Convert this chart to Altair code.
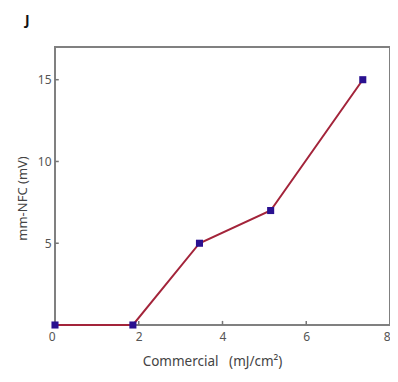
import altair as alt
import pandas as pd

energy = [0.0, 1.86, 3.45, 5.15, 7.35]
voltage = [0, 0, 5, 7, 15]
x_ticks = [0, 2, 4, 6, 8]
y_ticks = [5, 10, 15]

df = pd.DataFrame({"x": energy, "y": voltage})
xt = pd.DataFrame({"v": [2, 4, 6], "y0": [0, 0, 0], "y1": [0.25, 0.25, 0.25]})
yt = pd.DataFrame({"v": y_ticks, "x0": [0] * 3, "x1": [0.09] * 3})

font = "Noto Sans"
xs = alt.Scale(domain=[0, 8], nice=False, zero=False)
ys = alt.Scale(domain=[0, 17], nice=False, zero=False)

x_axis = alt.Axis(
    values=x_ticks, title="Commercial\u00a0\u00a0\u00a0(mJ/cm²)", grid=False, domain=False, ticks=False,
    labelFont=font, labelFontSize=12, labelColor="#555", labelPadding=6,
    labelAlign=alt.expr("datum.value == 0 ? 'right' : (datum.value == 8 ? 'right' : 'center')"),
    labelBound=False, labelOverlap=False,
    titleFont=font, titleFontSize=13.5, titleColor="#444", titleFontWeight="normal",
    titlePadding=12, titleX=157,
)
y_axis = alt.Axis(
    values=y_ticks, title="mm-NFC (mV)", grid=False, domain=False, ticks=False,
    labelFont=font, labelFontSize=12, labelColor="#555", labelPadding=4,
    titleFont=font, titleFontSize=13, titleColor="#444", titleFontWeight="normal",
    titlePadding=8, titleY=151,
)

base = alt.Chart(df)
line = base.mark_line(color="#A3243A", strokeWidth=2).encode(
    x=alt.X("x:Q", scale=xs, axis=x_axis),
    y=alt.Y("y:Q", scale=ys, axis=y_axis),
)
pts = base.mark_square(color="#2A1190", size=50, opacity=1).encode(
    x=alt.X("x:Q", scale=xs), y=alt.Y("y:Q", scale=ys)
)
xtick = alt.Chart(xt).mark_rule(color="#777", strokeWidth=1.5).encode(
    x=alt.X("v:Q", scale=xs), y=alt.Y("y0:Q", scale=ys), y2="y1:Q"
)
ytick = alt.Chart(yt).mark_rule(color="#777", strokeWidth=1.5).encode(
    y=alt.Y("v:Q", scale=ys), x=alt.X("x0:Q", scale=xs), x2="x1:Q"
)
label = alt.Chart(pd.DataFrame({"t": ["J"]})).mark_text(
    font=font, fontSize=14, fontWeight="bold", color="#111", align="left", baseline="middle"
).encode(text="t:N", x=alt.value(-30), y=alt.value(-26))

chart = alt.layer(xtick, ytick, line, pts, label).properties(
    width=335, height=278,
    autosize=alt.AutoSizeParams(type="none"),
    padding={"left": 47, "top": 39, "right": 0, "bottom": 48},
).configure(background="white").configure_view(stroke="#808080", strokeWidth=2)

chart.save("out.html", embed_options={"renderer": "svg", "actions": False})
